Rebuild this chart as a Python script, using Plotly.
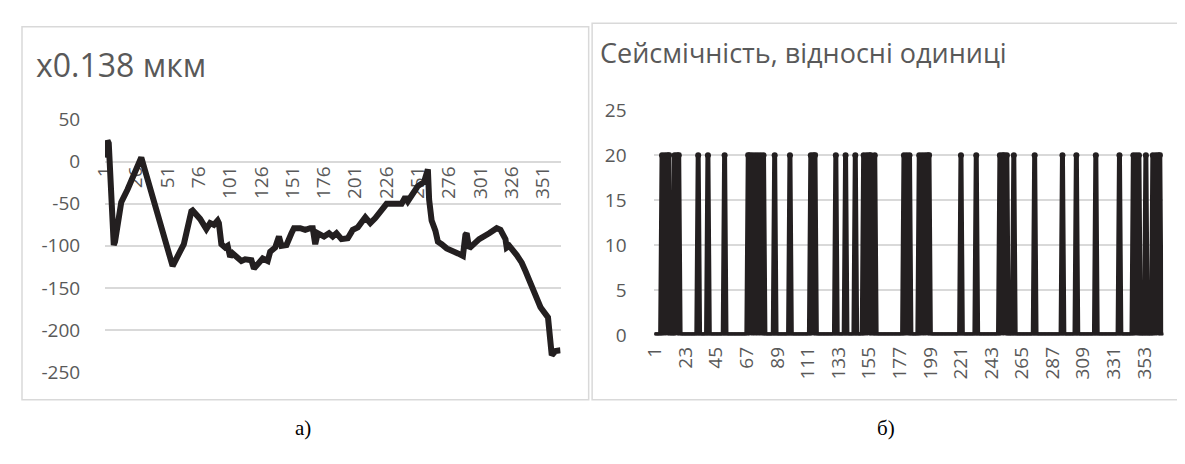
import plotly.graph_objects as go

# ---------------- data: chart a) displacement, x0.138 мкм ----------------
disp_day = [1, 3, 4, 7, 8, 9, 11, 14, 19, 23, 26, 29, 30, 55, 59, 64, 70, 71, 77, 82,
            85, 88, 91, 92, 94, 97, 99, 101, 103, 106, 110, 113, 118, 120, 124, 127,
            131, 133, 137, 140, 142, 146, 150, 152, 157, 161, 165, 167, 169, 171, 176,
            180, 183, 186, 190, 195, 199, 203, 209, 213, 217, 222, 226, 238, 241, 243,
            248, 251, 256, 258, 259, 260, 262, 265, 267, 270, 274, 283, 287, 289, 290,
            292, 296, 300, 308, 314, 317, 321, 322, 324, 330, 334, 337, 343, 349, 355,
            357, 358, 361, 365]
disp_val = [5, 25, 22, -97, -99, -95, -74, -48, -33, -18, -7, 5, 5, -124, -113, -98,
            -59, -58, -68, -80, -73, -75, -70, -73, -98, -102, -100, -113, -109, -114,
            -118, -116, -117, -127, -119, -115, -118, -107, -102, -89, -100, -99, -85,
            -79, -79, -81, -79, -79, -98, -85, -89, -85, -89, -85, -92, -91, -81, -78,
            -66, -73, -67, -59, -50, -50, -42, -47, -37, -29, -24, -10, -9, -45, -70,
            -82, -95, -98, -103, -109, -112, -87, -85, -103, -98, -92, -85, -79, -81,
            -92, -102, -100, -111, -120, -130, -152, -173, -185, -227, -230, -225, -224]
left_tick_labels = [1, 26, 51, 76, 101, 126, 151, 176, 201, 226, 251, 276, 301, 326, 351]
left_y_ticks = [50, 0, -50, -100, -150, -200, -250]

# ---------------- data: chart б) seismicity, relative units ----------------
seis_days = list(range(1, 367))
seis_event_days = [6, 8, 10, 11, 15, 17, 18, 32, 39, 51, 68, 69, 71, 73, 75, 77, 79,
                   87, 98, 113, 115, 116, 131, 138, 145, 151, 153, 155, 156, 159,
                   180, 182, 184, 191, 193, 195, 197, 198, 221, 232, 249, 251, 252,
                   254, 259, 274, 294, 304, 318, 335, 345, 347, 349, 354, 359, 361,
                   363, 364]
seis_event_level = 20
seis_val = [seis_event_level if d in seis_event_days else 0 for d in seis_days]
right_tick_labels = [1, 23, 45, 67, 89, 111, 133, 155, 177, 199, 221, 243, 265, 287,
                     309, 331, 353]
right_y_ticks = [0, 5, 10, 15, 20, 25]

# ---------------- layout geometry (window pixels) ----------------
OFF = 8                      # default page margin around the plot div
FW, FH = 1185 - OFF, 464 - 2 * OFF
LINE = "#231F20"
GRID = "#D9D9D9"
TXT = "#595959"
FONT = "Open Sans"


def px(x):
    return (x - OFF) / FW


def py(y):
    return 1 - (y - OFF) / FH


def labels(vals):
    return [str(v) for v in vals]   # plain hyphen for negatives, as in the source


l_x0, l_x1, l_ytop, l_ybot = 92, 553, 112.7, 380.7
r_x0, r_x1, r_ytop, r_ybot = 648, 1163, 102.7, 341.7

l_ydom = [py(l_ybot), py(l_ytop)]
r_ydom = [py(r_ybot), py(r_ytop)]
l_range = [-250, 50]
# the category axis of chart a) crosses the value axis at 0
l_xpos = l_ydom[0] + (0 - l_range[0]) / (l_range[1] - l_range[0]) * (l_ydom[1] - l_ydom[0])

fig = go.Figure()
fig.add_trace(go.Scatter(x=disp_day, y=disp_val, mode="lines",
                         line=dict(color=LINE, width=6),
                         xaxis="x", yaxis="y", showlegend=False, hoverinfo="skip"))
fig.add_trace(go.Scatter(x=seis_days, y=seis_val, mode="lines+markers",
                         line=dict(color=LINE, width=5),
                         marker=dict(color=LINE, size=6),
                         xaxis="x2", yaxis="y2", showlegend=False, hoverinfo="skip"))

tickfont = dict(family=FONT, size=19, color=TXT)
fig.update_layout(
    width=FW, height=FH, margin=dict(l=0, r=0, t=0, b=0),
    paper_bgcolor="white", plot_bgcolor="white",
    xaxis=dict(domain=[px(l_x0), px(l_x1)], range=[1, 365], anchor="free",
               position=l_xpos, tickmode="array", tickvals=left_tick_labels,
               ticktext=labels(left_tick_labels), tickangle=-90,
               showgrid=False, zeroline=False, showline=False, ticks="",
               tickfont=tickfont, layer="below traces"),
    yaxis=dict(domain=l_ydom, range=l_range, tickmode="array", tickvals=left_y_ticks,
               ticktext=labels(left_y_ticks),
               anchor="x", showgrid=True, gridcolor=GRID, gridwidth=1.5,
               zeroline=False, showline=False, ticks="outside", ticklen=20,
               tickcolor="rgba(0,0,0,0)", tickfont=tickfont),
    xaxis2=dict(domain=[px(r_x0), px(r_x1)], range=[0.5, 366.5], anchor="y2",
                tickmode="array", tickvals=right_tick_labels,
                ticktext=labels(right_tick_labels), tickangle=-90,
                showgrid=False, zeroline=False, showline=False, ticks="outside",
                ticklen=3, tickcolor="rgba(0,0,0,0)", tickfont=tickfont),
    yaxis2=dict(domain=r_ydom, range=[0, 25], tickmode="array", tickvals=right_y_ticks,
                ticktext=labels(right_y_ticks),
                anchor="x2", showgrid=True, gridcolor=GRID, gridwidth=1.5,
                zeroline=False, showline=False, ticks="outside", ticklen=23,
                tickcolor="rgba(0,0,0,0)", tickfont=tickfont),
)

# chart frames
fig.add_shape(type="rect", xref="paper", yref="paper",
              x0=px(8), x1=px(581.5), y0=py(410), y1=py(14),
              line=dict(color=GRID, width=1.5), layer="below")
fig.add_shape(type="rect", xref="paper", yref="paper",
              x0=px(585), x1=px(1192), y0=py(410), y1=py(10.5),
              line=dict(color=GRID, width=1.5), layer="below")

# titles
fig.add_annotation(text="x0.138 мкм", xref="paper", yref="paper", x=px(20), y=py(54),
                   xanchor="left", yanchor="middle", showarrow=False,
                   font=dict(family=FONT, size=32, color=TXT))
fig.add_annotation(text="Сейсмічність, відносні одиниці", xref="paper", yref="paper",
                   x=px(591), y=py(41), xanchor="left", yanchor="middle", showarrow=False,
                   font=dict(family=FONT, size=27, color=TXT))

# captions
fig.add_annotation(text="а)", xref="paper", yref="paper", x=px(292), y=py(440),
                   xanchor="center", yanchor="middle", showarrow=False,
                   font=dict(family="Liberation Serif", size=21, color="#000000"))
fig.add_annotation(text="б)", xref="paper", yref="paper", x=px(882), y=py(440),
                   xanchor="center", yanchor="middle", showarrow=False,
                   font=dict(family="Liberation Serif", size=21, color="#000000"))

fig.write_html("out.html")
